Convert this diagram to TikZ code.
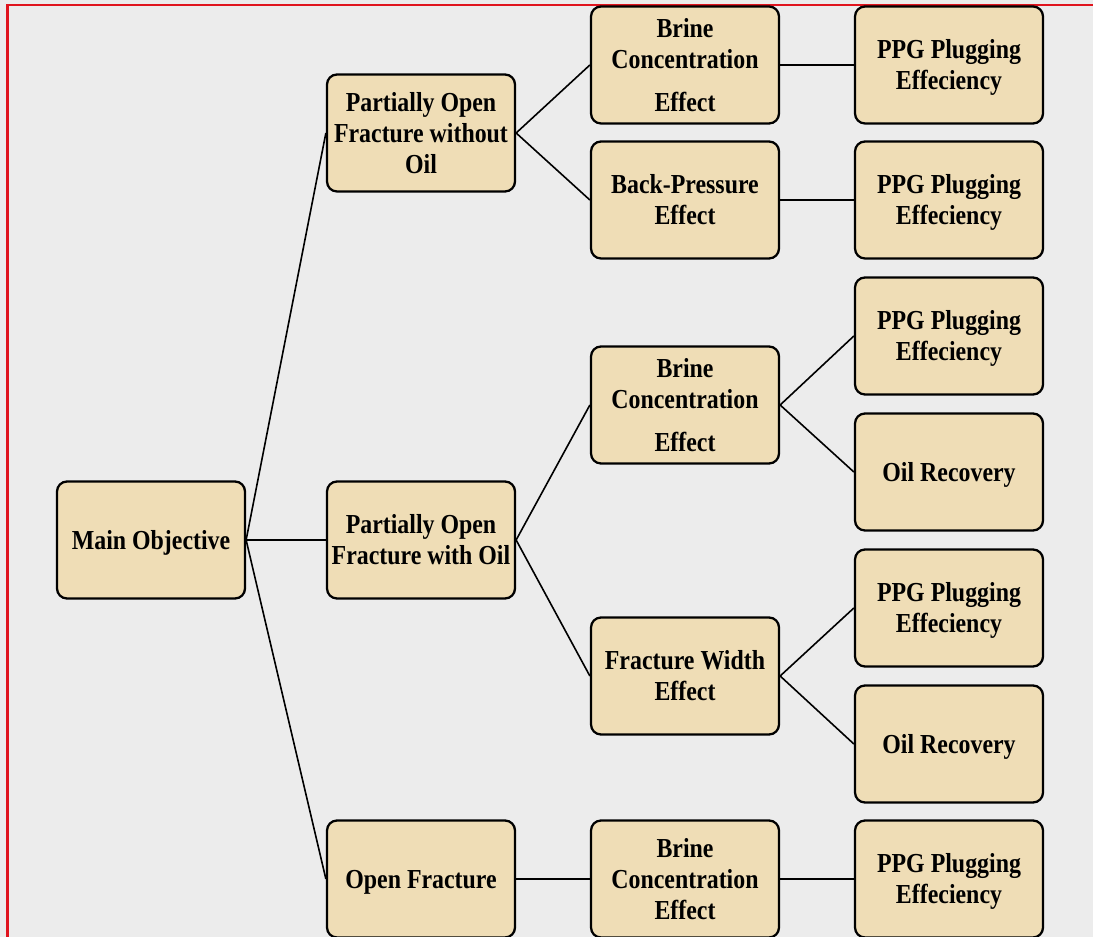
\documentclass[tikz,border=0pt]{standalone}
\usepackage{fontspec}
\usepackage{graphicx}
\setmainfont{Liberation Serif}
\definecolor{bgcol}{HTML}{ECECEC}
\definecolor{boxfill}{HTML}{EFDDB6}
\definecolor{framered}{HTML}{E0141E}
\newcommand{\boxtext}[1]{\raisebox{-2.3pt}[\height][\depth]{\scalebox{1}[1.15]{\begin{tabular}{@{}c@{}}#1\end{tabular}}}}
\tikzset{
  objbox/.style={draw=black, line width=1.7pt, rounded corners=7.5pt, fill=boxfill,
    minimum width=141pt, minimum height=87.75pt, inner sep=0pt, align=center,
    font=\fontsize{17.9}{20.2}\selectfont\bfseries},
  link/.style={draw=black, line width=1.2pt}
}
\begin{document}
\begin{tikzpicture}[x=0.75pt,y=-0.75pt]
\clip (0,0) rectangle (1093,937);
\useasboundingbox (0,0) rectangle (1093,937);
\fill[bgcol] (0,0) rectangle (1093,937);
\draw[framered, line width=2pt] (7.5,937) -- (7.5,5) -- (1093,5);

\node[objbox] (main) at (151,540) {\boxtext{Main Objective}};
\node[objbox] (p1) at (421,133) {\boxtext{Partially Open\\Fracture without\\Oil}};
\node[objbox] (p2) at (421,540) {\boxtext{Partially Open\\Fracture with Oil}};
\node[objbox] (p3) at (421,879) {\boxtext{Open Fracture}};

\node[objbox] (b1) at (685,65) {\boxtext{Brine\\Concentration\\[8pt]Effect}};
\node[objbox] (bp) at (685,200) {\boxtext{Back-Pressure\\Effect}};
\node[objbox] (b2) at (685,405) {\boxtext{Brine\\Concentration\\[8pt]Effect}};
\node[objbox] (fw) at (685,676) {\boxtext{Fracture Width\\Effect}};
\node[objbox] (b3) at (685,879) {\boxtext{Brine\\Concentration\\Effect}};

\node[objbox] (g1) at (949,65) {\boxtext{PPG Plugging\\Effeciency}};
\node[objbox] (g2) at (949,200) {\boxtext{PPG Plugging\\Effeciency}};
\node[objbox] (g3) at (949,336) {\boxtext{PPG Plugging\\Effeciency}};
\node[objbox] (o1) at (949,472) {\boxtext{Oil Recovery}};
\node[objbox] (g4) at (949,608) {\boxtext{PPG Plugging\\Effeciency}};
\node[objbox] (o2) at (949,744) {\boxtext{Oil Recovery}};
\node[objbox] (g5) at (949,879) {\boxtext{PPG Plugging\\Effeciency}};

\draw[link] (main.east) -- (p1.west);
\draw[link] (main.east) -- (p2.west);
\draw[link] (main.east) -- (p3.west);
\draw[link] (p1.east) -- (b1.west);
\draw[link] (p1.east) -- (bp.west);
\draw[link] (p2.east) -- (b2.west);
\draw[link] (p2.east) -- (fw.west);
\draw[link] (p3.east) -- (b3.west);
\draw[link] (b1.east) -- (g1.west);
\draw[link] (bp.east) -- (g2.west);
\draw[link] (b2.east) -- (g3.west);
\draw[link] (b2.east) -- (o1.west);
\draw[link] (fw.east) -- (g4.west);
\draw[link] (fw.east) -- (o2.west);
\draw[link] (b3.east) -- (g5.west);
\end{tikzpicture}
\end{document}
